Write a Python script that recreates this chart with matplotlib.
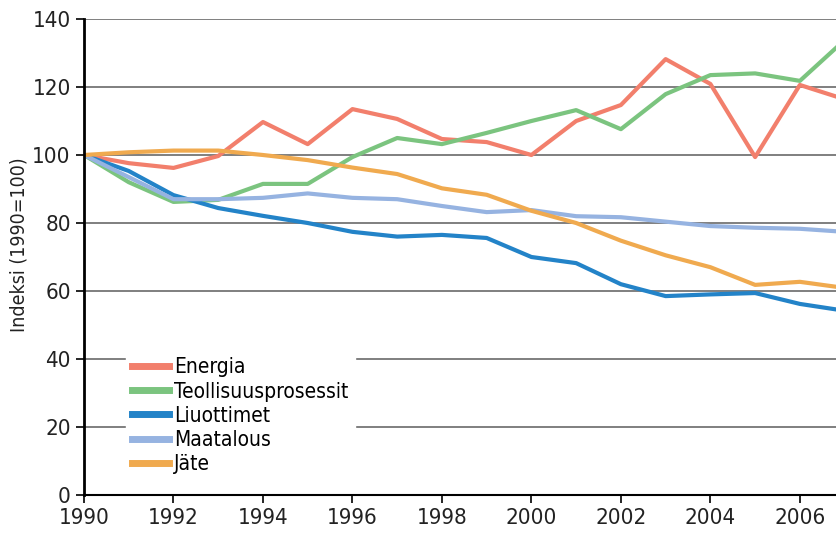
import matplotlib
matplotlib.use("Agg")
import matplotlib.pyplot as plt

plt.rcParams['font.family'] = ['DejaVu Sans']
plt.rcParams['font.stretch'] = 'condensed'

years = list(range(1990, 2008))

energia = [100, 97.6, 96.2, 99.7, 109.7, 103.2, 113.5, 110.6, 104.7, 103.8,
           100.0, 110.0, 114.7, 128.2, 120.9, 99.4, 120.6, 116.4]
teollisuus = [100, 92.0, 86.2, 86.8, 91.5, 91.5, 99.4, 105.0, 103.2, 106.5,
              110.0, 113.2, 107.6, 117.9, 123.5, 124.0, 121.8, 133.8]
liuottimet = [100, 95.3, 88.2, 84.4, 82.1, 80.0, 77.4, 76.0, 76.5, 75.6,
              70.0, 68.2, 62.0, 58.5, 59.0, 59.4, 56.2, 54.2]
maatalous = [100, 93.5, 87.0, 87.0, 87.4, 88.7, 87.4, 87.0, 85.0, 83.2,
             83.8, 82.0, 81.7, 80.4, 79.1, 78.6, 78.3, 77.4]
jate = [100, 100.8, 101.3, 101.3, 100.0, 98.5, 96.3, 94.4, 90.2, 88.3,
        83.6, 80.0, 74.8, 70.5, 67.0, 61.8, 62.7, 60.9]

series = [
    ("Energia", energia, "#F27F6C"),
    ("Teollisuusprosessit", teollisuus, "#7BC47F"),
    ("Liuottimet", liuottimet, "#2383C8"),
    ("Maatalous", maatalous, "#96B3E1"),
    ("Jäte", jate, "#F0AA4F"),
]

fig = plt.figure(figsize=(8.37, 5.35), dpi=100)
ax = fig.add_axes([84 / 837, 40 / 535, 1 - 84 / 837, 476 / 535])

for name, vals, color in series:
    ax.plot(years, vals, color=color, lw=3.0, label=name)

ax.set_xlim(1990, 2006.83)
ax.set_ylim(0, 140)
ax.set_xticks(range(1990, 2007, 2))
ax.set_yticks(range(0, 141, 20))

ax.yaxis.grid(True, color='#6a6a6a', lw=1.2)
ax.set_axisbelow(True)
for s in ['top', 'right']:
    ax.spines[s].set_visible(False)
ax.spines['left'].set_linewidth(2.0)
ax.spines['bottom'].set_linewidth(1.5)
ax.tick_params(direction='out', length=6, width=1.2, labelsize=16, labelcolor='#222222')

ax.set_ylabel("Indeksi (1990=100)", fontsize=14, color='#222222')
ax.yaxis.set_label_coords(-0.074, 0.525)

# legend sits on a white box that hides the grid lines behind it
leg = ax.legend(loc='upper left', bbox_to_anchor=(0.042, 0.324), frameon=True,
                fontsize=15, handlelength=1.75, handletextpad=0.25, labelspacing=0.2,
                borderpad=0.3, fancybox=False)
leg.get_frame().set_facecolor('white')
leg.get_frame().set_edgecolor('white')
leg.get_frame().set_alpha(1)
for line in leg.get_lines():
    line.set_linewidth(5)

fig.savefig("out.png", dpi=100)
